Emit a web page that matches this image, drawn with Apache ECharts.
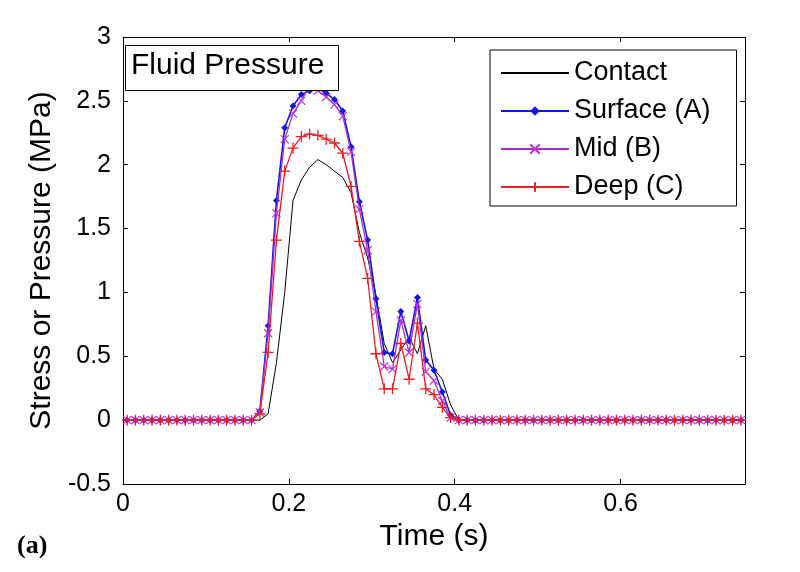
<!DOCTYPE html>
<html>
<head>
<meta charset="utf-8">
<script src="https://cdn.jsdelivr.net/npm/echarts@6/dist/echarts.min.js"></script>
<style>html,body{margin:0;padding:0;background:#fff;}#c{width:800px;height:572px;}</style>
</head>
<body>
<div id="c"></div>
<script>
const times = [0.005,0.015,0.025,0.035,0.045,0.055,0.065,0.075,0.085,0.095,0.105,0.115,0.125,0.135,0.145,0.155,
  0.165,0.175,0.185,0.195,0.205,0.215,0.225,0.235,0.245,0.255,0.265,0.275,0.285,0.295,0.305,0.315,0.325,0.335,0.345,0.355,0.365,0.375,0.385,0.395,
  0.405,0.415,0.425,0.435,0.445,0.455,0.465,0.475,0.485,0.495,0.505,0.515,0.525,0.535,0.545,0.555,0.565,0.575,0.585,0.595,
  0.605,0.615,0.625,0.635,0.645,0.655,0.665,0.675,0.685,0.695,0.705,0.715,0.725,0.735,0.745];

const contact = [0,0,0,0,0,0,0,0,0,0,0,0,0,0,0,0,
  0,0.05,0.45,1.0,1.72,1.88,1.98,2.04,2.0,1.95,1.9,1.78,1.47,1.27,0.98,0.6,0.45,0.55,0.65,0.52,0.74,0.4,0.32,0.12,
  0,0,0,0,0,0,0,0,0,0,0,0,0,0,0,0,0,0,0,0,0,0,0,0,0,0,0,0,0,0,0,0,0,0,0];

const surface = [0,0,0,0,0,0,0,0,0,0,0,0,0,0,0,0,
  0.07,0.74,1.72,2.29,2.46,2.55,2.58,2.60,2.56,2.51,2.42,2.14,1.71,1.41,0.95,0.53,0.52,0.85,0.62,0.96,0.47,0.39,0.22,0.04,
  0,0,0,0,0,0,0,0,0,0,0,0,0,0,0,0,0,0,0,0,0,0,0,0,0,0,0,0,0,0,0,0,0,0,0];

const mid = [0,0,0,0,0,0,0,0,0,0,0,0,0,0,0,0,
  0.06,0.68,1.62,2.2,2.4,2.5,2.62,2.58,2.53,2.47,2.38,2.1,1.65,1.33,0.85,0.42,0.40,0.78,0.53,0.91,0.38,0.31,0.15,0.02,
  0,0,0,0,0,0,0,0,0,0,0,0,0,0,0,0,0,0,0,0,0,0,0,0,0,0,0,0,0,0,0,0,0,0,0];

const deep = [0,0,0,0,0,0,0,0,0,0,0,0,0,0,0,0,
  0.05,0.53,1.41,1.95,2.13,2.22,2.24,2.23,2.2,2.17,2.09,1.83,1.40,1.11,0.52,0.245,0.245,0.6,0.32,0.76,0.245,0.2,0.1,0.02,
  0,0,0,0,0,0,0,0,0,0,0,0,0,0,0,0,0,0,0,0,0,0,0,0,0,0,0,0,0,0,0,0,0,0,0];

const seriesNames = ['Contact','Surface (A)','Mid (B)','Deep (C)'];
const xTicks = {min:0, max:0.75, interval:0.2};
const yTicks = {min:-0.5, max:3, interval:0.5};
const panelTitle = 'Fluid Pressure';
const panelLabel = '(a)';
const xTitle = 'Time (s)';
const yTitle = 'Stress or Pressure (MPa)';

function pairs(vals){ return times.map((t,i)=>[t, vals[i]]); }

const FONT = 'Liberation Sans, Arial, sans-serif';
const chart = echarts.init(document.getElementById('c'), null, {renderer:'canvas'});

function axisCommon(){
  return {
    axisLine:{show:true, onZero:false, lineStyle:{color:'#000', width:1}},
    axisTick:{show:true, inside:true, length:5, lineStyle:{color:'#000'}},
    splitLine:{show:false}
  };
}

const X_MARK = 'path://M0,0L10,10M10,0L0,10';
const PLUS_MARK = 'path://M5,0L5,10M0,5L10,5';

chart.setOption({
  animation:false,
  backgroundColor:'#fff',
  grid:{left:123, top:37, right:55, bottom:88, containLabel:false},
  xAxis:[
    Object.assign({type:'value', position:'bottom', min:xTicks.min, max:xTicks.max, interval:xTicks.interval,
      name:xTitle, nameLocation:'middle', nameGap:36,
      nameTextStyle:{fontFamily:FONT, fontSize:30, color:'#000'},
      axisLabel:{fontFamily:FONT, fontSize:25, color:'#000', margin:8, showMaxLabel:false}}, axisCommon()),
    Object.assign({type:'value', position:'top', min:xTicks.min, max:xTicks.max, interval:xTicks.interval,
      axisLabel:{show:false}}, axisCommon())
  ],
  yAxis:[
    Object.assign({type:'value', position:'left', min:yTicks.min, max:yTicks.max, interval:yTicks.interval,
      name:yTitle, nameLocation:'middle', nameGap:60, nameRotate:90,
      nameTextStyle:{fontFamily:FONT, fontSize:30, color:'#000'},
      axisLabel:{fontFamily:FONT, fontSize:25, color:'#000', margin:12}}, axisCommon()),
    Object.assign({type:'value', position:'right', min:yTicks.min, max:yTicks.max, interval:yTicks.interval,
      axisLabel:{show:false}}, axisCommon())
  ],
  legend:{
    orient:'vertical', left:490, top:50,
    data:[
      {name:seriesNames[0], itemStyle:{color:'rgba(0,0,0,0)', borderWidth:0, opacity:0}},
      {name:seriesNames[1]},
      {name:seriesNames[2]},
      {name:seriesNames[3]}
    ],
    itemWidth:68, itemHeight:12, itemGap:8,
    padding:[8,26,4,10],
    backgroundColor:'#fff', borderColor:'#000', borderWidth:1,
    textStyle:{fontFamily:FONT, fontSize:27, color:'#000', lineHeight:30},
    z:20
  },
  graphic:[
    {type:'rect', left:125, top:45, shape:{width:213, height:45}, style:{fill:'#fff', stroke:'#000', lineWidth:1}, z:10},
    {type:'text', left:131, top:51, style:{text:panelTitle, font:'30px '+FONT, fill:'#000'}, z:11},
    {type:'text', left:17, top:533, style:{text:panelLabel, font:'bold 26px Liberation Serif, Times New Roman, serif', fill:'#000'}, z:11}
  ],
  series:[
    {name:seriesNames[0], type:'line', data:pairs(contact), showSymbol:false, symbol:'none',
      lineStyle:{color:'#000', width:1}, itemStyle:{color:'#000'}, z:2},
    {name:seriesNames[1], type:'line', data:pairs(surface), showAllSymbol:true, symbol:'diamond', symbolSize:7,
      lineStyle:{color:'#1414e6', width:1.6}, itemStyle:{color:'#1414e6'}, z:3},
    {name:seriesNames[2], type:'line', data:pairs(mid), showAllSymbol:true, symbol:X_MARK, symbolSize:8,
      lineStyle:{color:'#a830c8', width:1.3}, itemStyle:{color:'rgba(0,0,0,0)', borderColor:'#c030d0', borderWidth:1.2}, z:4},
    {name:seriesNames[3], type:'line', data:pairs(deep), showAllSymbol:true, symbol:PLUS_MARK, symbolSize:11,
      lineStyle:{color:'#ee1c24', width:1.3}, itemStyle:{color:'rgba(0,0,0,0)', borderColor:'#ee1c24', borderWidth:1.3}, z:5}
  ]
});
</script>
</body>
</html>
